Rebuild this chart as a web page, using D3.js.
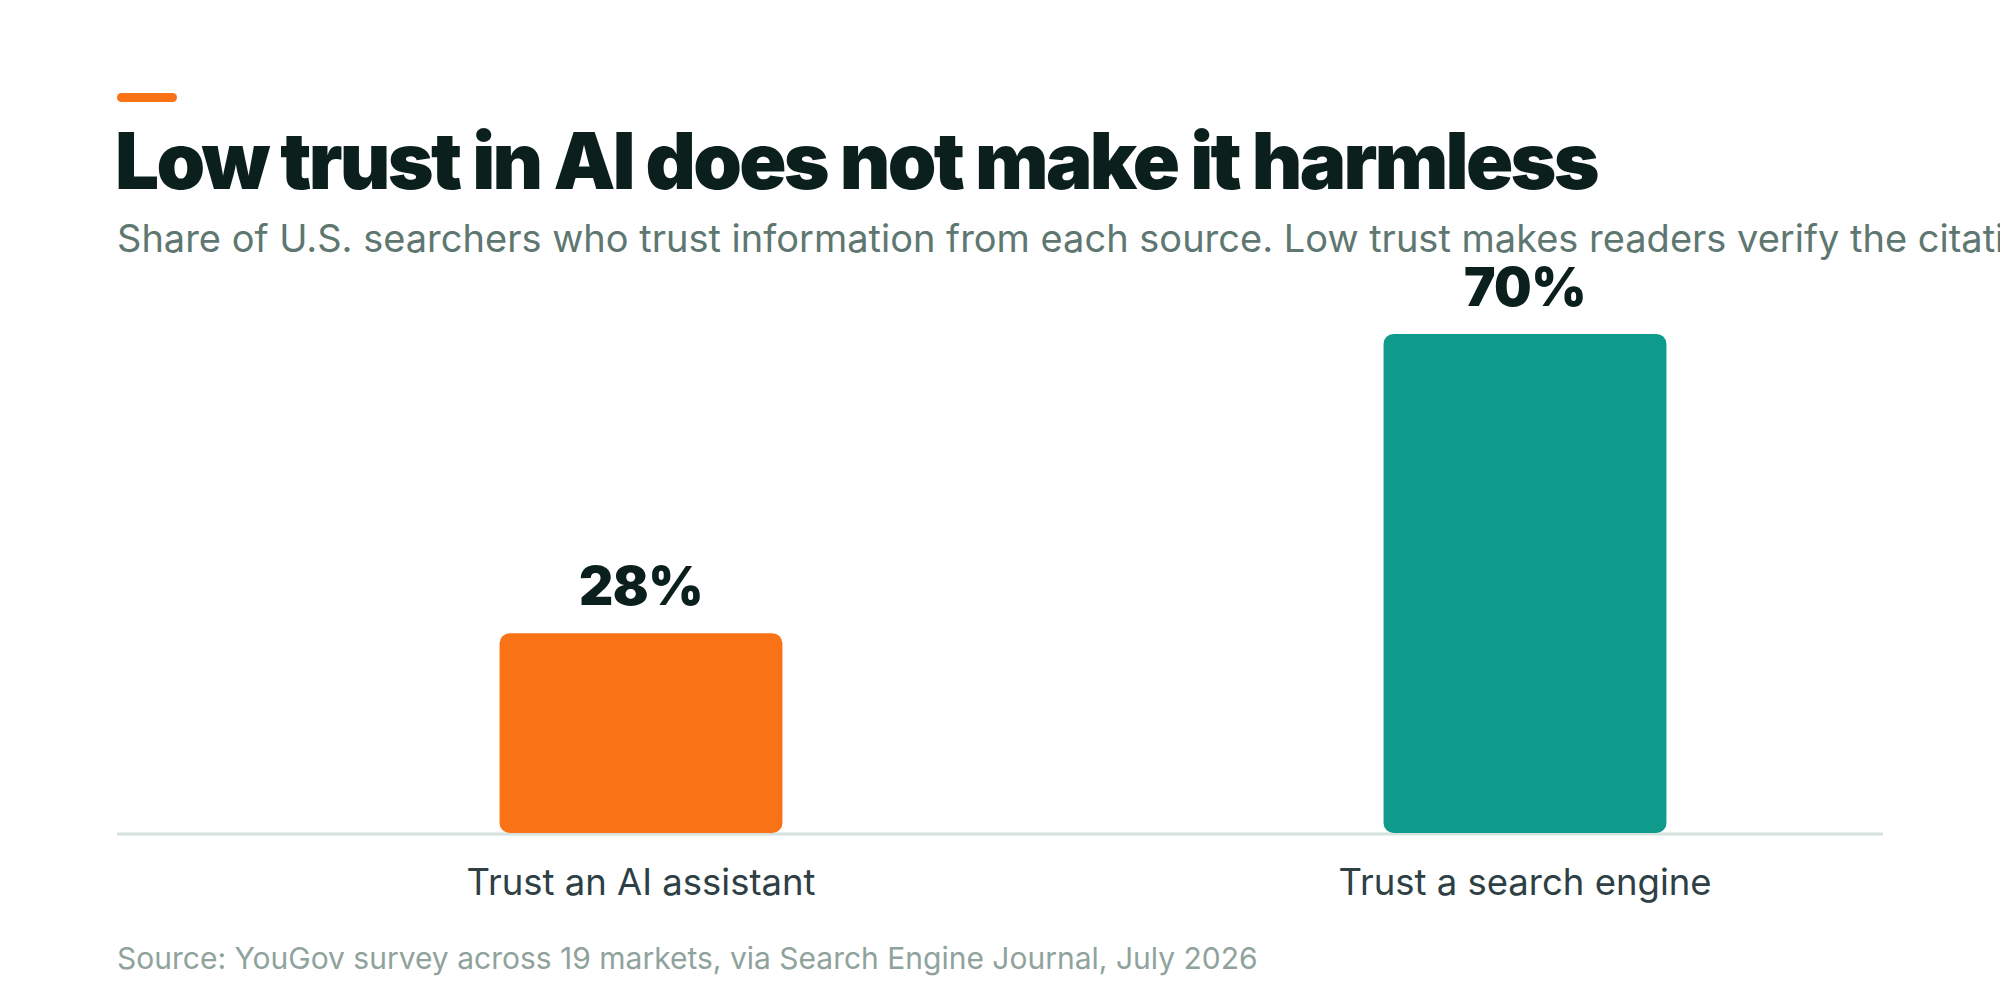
<!DOCTYPE html>
<html>
<head>
<meta charset="utf-8">
<script src="https://cdn.jsdelivr.net/npm/d3@7"></script>
<style>
  html, body { margin: 0; padding: 0; background: #fff; overflow: hidden; }
  svg { display: block; font-family: Inter, "Noto Sans", sans-serif; }
</style>
</head>
<body>
<script>
// data
var categories = ["Trust an AI assistant", "Trust a search engine"];
var values = [28, 70];
var barColors = ["#F97316", "#0E9B8C"];

var title = "Low trust in AI does not make it harmless";
var subtitle = "Share of U.S. searchers who trust information from each source. Low trust makes readers verify the citations, not ignore them.";
var source = "Source: YouGov survey across 19 markets, via Search Engine Journal, July 2026";

var width = 2000, height = 1000;

var svg = d3.select("body").append("svg")
    .attr("width", width)
    .attr("height", height);

// accent bar above title
svg.append("rect")
    .attr("x", 117).attr("y", 93)
    .attr("width", 60).attr("height", 9)
    .attr("rx", 4.5)
    .attr("fill", "#F97316");

svg.append("text")
    .attr("x", 115).attr("y", 189)
    .attr("font-size", 78)
    .attr("font-weight", 900)
    .attr("letter-spacing", -2.7)
    .attr("fill", "#0B201D")
    .text(title);

svg.append("text")
    .attr("x", 117).attr("y", 252)
    .attr("font-size", 38)
    .attr("fill", "#5E7770")
    .text(subtitle);

// scales
var x = d3.scaleBand()
    .domain(categories)
    .range([199, 1967])
    .paddingInner(0.68)
    .paddingOuter(0.34);

var y = d3.scaleLinear()
    .domain([0, 100])
    .range([833, 120]);

// baseline
svg.append("line")
    .attr("x1", 117).attr("x2", 1883)
    .attr("y1", y(0) + 1).attr("y2", y(0) + 1)
    .attr("stroke", "#D6E2DE")
    .attr("stroke-width", 3);

var g = svg.selectAll(".bar")
    .data(values)
    .enter().append("g")
    .attr("class", "bar");

// rounded bars
g.append("rect")
    .attr("x", function(d, i) { return x(categories[i]); })
    .attr("y", function(d) { return y(d); })
    .attr("width", x.bandwidth())
    .attr("height", function(d) { return y(0) - y(d); })
    .attr("rx", 10)
    .attr("fill", function(d, i) { return barColors[i]; });

// value labels
g.append("text")
    .attr("x", function(d, i) { return x(categories[i]) + x.bandwidth() / 2; })
    .attr("y", function(d) { return y(d) - 28; })
    .attr("text-anchor", "middle")
    .attr("font-size", 53)
    .attr("font-weight", 900)
    .attr("letter-spacing", -0.5)
    .attr("fill", "#0B201D")
    .text(function(d) { return d + "%"; });

// category labels
g.append("text")
    .attr("x", function(d, i) { return x(categories[i]) + x.bandwidth() / 2; })
    .attr("y", 895)
    .attr("text-anchor", "middle")
    .attr("font-size", 36.5)
    .attr("fill", "#2E3F45")
    .text(function(d, i) { return categories[i]; });

svg.append("text")
    .attr("x", 117).attr("y", 969)
    .attr("font-size", 30)
    .attr("fill", "#8FA39C")
    .text(source);
</script>
</body>
</html>
